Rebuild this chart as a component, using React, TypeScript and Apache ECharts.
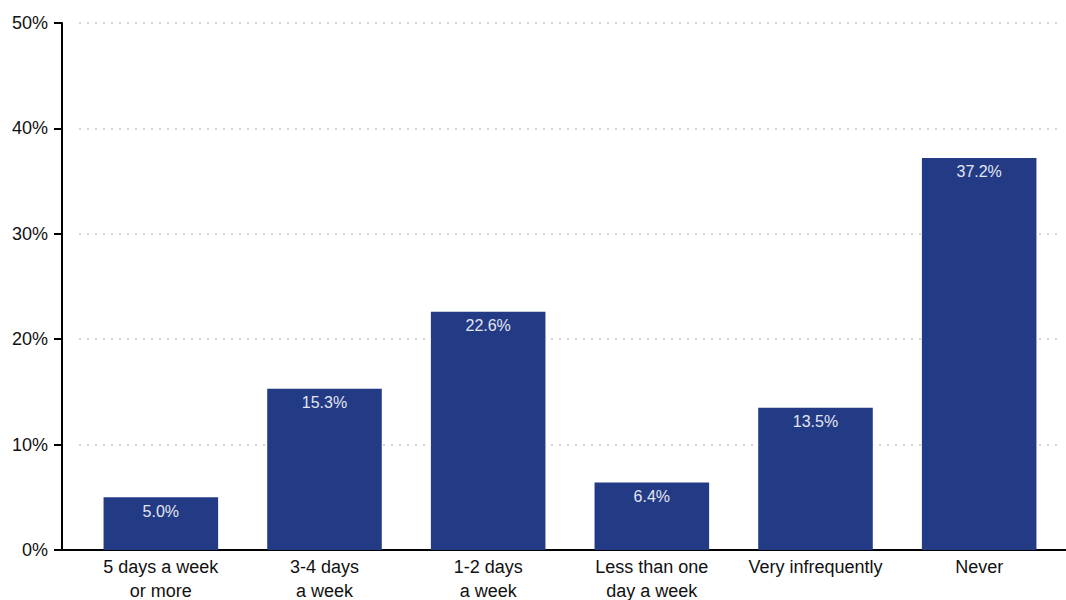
import React, { useEffect, useRef } from "react";
import * as echarts from "echarts";

const categories = [
  "5 days a week\nor more",
  "3-4 days\na week",
  "1-2 days\na week",
  "Less than one\nday a week",
  "Very infrequently",
  "Never",
];
const values = [5.0, 15.3, 22.6, 6.4, 13.5, 37.2];
const yTicks = [0, 10, 20, 30, 40, 50];

const FONT = "'Liberation Sans Narrow', 'Liberation Sans', Arial, sans-serif";

export default function App() {
  const ref = useRef<HTMLDivElement>(null);
  useEffect(() => {
    if (!ref.current) return;
    const chart = echarts.init(ref.current, null, { renderer: "svg", width: 1066, height: 600 });
    chart.setOption({
      animation: false,
      backgroundColor: "#ffffff",
      grid: [
        { left: 79, right: 5, top: 23, bottom: 50, containLabel: false, outerBoundsMode: "none" },
        { left: 62, right: 0, top: 23, bottom: 50, containLabel: false, outerBoundsMode: "none" },
      ],
      xAxis: [
        {
          type: "category",
          gridIndex: 0,
          data: categories,
          axisLine: { show: false },
          axisTick: { show: false },
          axisLabel: {
            color: "#111",
            fontSize: 18,
            fontFamily: FONT,
            lineHeight: 24,
            margin: 5,
            interval: 0,
          },
        },
        {
          type: "value",
          gridIndex: 1,
          min: 0,
          max: 1,
          axisLine: { show: true, lineStyle: { color: "#000", width: 2 } },
          axisTick: { show: false },
          axisLabel: { show: false },
          splitLine: { show: false },
        },
      ],
      yAxis: [
        {
          type: "value",
          gridIndex: 0,
          min: yTicks[0],
          max: yTicks[yTicks.length - 1],
          interval: 10,
          offset: 17,
          axisLine: { show: true, lineStyle: { color: "#000", width: 2 } },
          axisTick: { show: true, length: 8, lineStyle: { color: "#000", width: 2 } },
          axisLabel: {
            color: "#111",
            fontSize: 18,
            fontFamily: FONT,
            margin: 14,
            formatter: (v: number) => `${v}%`,
          },
          splitLine: {
            show: true,
            lineStyle: { color: "#c8c8c8", type: [2, 6], width: 1.5 },
          },
        },
        {
          type: "value",
          gridIndex: 1,
          show: false,
        },
      ],
      series: [
        {
          type: "bar",
          xAxisIndex: 0,
          yAxisIndex: 0,
          data: values,
          barCategoryGap: "30%",
          itemStyle: { color: "#233a85" },
          label: {
            show: true,
            position: "insideTop",
            distance: 6,
            color: "#e2e6f2",
            fontSize: 16,
            fontFamily: FONT,
            formatter: (p: any) => `${Number(p.value).toFixed(1)}%`,
          },
        },
      ],
    });
    return () => chart.dispose();
  }, []);
  return <div ref={ref} style={{ width: 1066, height: 600, position: "absolute", left: 0, top: 0 }} />;
}
